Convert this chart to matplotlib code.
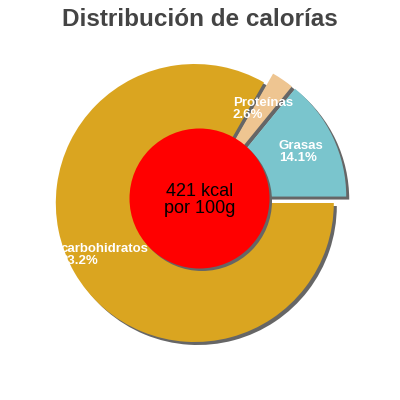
import matplotlib.pyplot as plt
from matplotlib.patches import Circle
import numpy as np

plt.rcParams['font.family'] = ['Liberation Sans', 'DejaVu Sans']

labels = ['Grasas', 'Proteínas', 'carbohidratos']
values = [14.1, 2.6, 83.2]
colors = ['#7AC5CD', '#EEC591', '#DAA520']
explode = [8, 7, 6]   # px (pie explode is in data units here)
title = 'Distribución de calorías'
center_text = '421 kcal\npor 100g'

fig = plt.figure(figsize=(4, 4), dpi=100)
ax = fig.add_axes([0, 0, 1, 1])
ax.set_xlim(0, 400)
ax.set_ylim(0, 400)
ax.set_aspect('equal')
ax.axis('off')

R = 139
cx, cy = 200, 200
sh = 3  # shadow offset in px

# shadows first
ax.pie(values, explode=explode, radius=R, center=(cx + sh, cy - sh),
       startangle=0, counterclock=True, colors=['#666666'] * 3,
       wedgeprops=dict(linewidth=0), frame=True)
wedges, _ = ax.pie(values, explode=explode, radius=R, center=(cx, cy),
                   startangle=0, counterclock=True, colors=colors,
                   wedgeprops=dict(linewidth=0), frame=True)

for w, lab, v in zip(wedges, labels, values):
    mid = np.deg2rad((w.theta1 + w.theta2) / 2)
    wx, wy = w.center
    tx = wx + 104 * np.cos(mid)
    ty = wy + 104 * np.sin(mid)
    ax.text(tx, ty, '%s\n%.1f%%' % (lab, v), color='white', fontsize=9.5,
            fontweight='bold', ha='center', va='center',
            multialignment='left', linespacing=1.0)

ax.add_patch(Circle((199.5 + 2.5, 201.5 - 2.5), 70, color='#666666', lw=0))
ax.add_patch(Circle((199.5, 201.5), 70, color='#FF0000', lw=0))
ax.text(199.5, 200, center_text, fontsize=13, ha='center', va='center',
        color='black', linespacing=1.05)

ax.set_xlim(0, 400)
ax.set_ylim(0, 400)
fig.text(0.5, 1 - 20 / 400, title, fontsize=17.5, fontweight='bold',
         color='#444444', ha='center', va='center')

fig.savefig('out.png', dpi=100)
